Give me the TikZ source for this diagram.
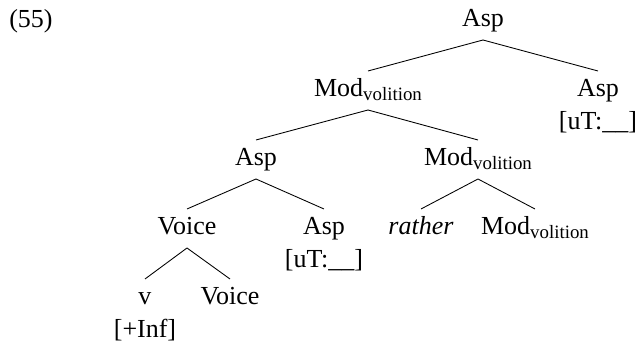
\documentclass[tikz,border=0pt]{standalone}
\usepackage{fontspec}
\setmainfont{Liberation Serif}
\usetikzlibrary{calc}
\newcommand{\modvol}{Mod\raisebox{-1.5pt}{\fontsize{8.7pt}{9pt}\selectfont volition}}
\newcommand{\featcat}[2]{\begin{tabular}[t]{@{}c@{}}#1\\ {#2}\end{tabular}}

\begin{document}
\begin{tikzpicture}[x=0.4615pt, y=-0.4615pt, font=\fontsize{12pt}{15pt}\selectfont,
        cat/.style = {anchor=base, inner sep=0pt}]
    \useasboundingbox (0,0) rectangle (636,342);
    \node[cat](ex) at (31,28) {(55)};
    \node[cat](asp1) at (483,27) {Asp};
    \node[cat](mod2) at (368,97) {\modvol};
    \node[cat](asp2) at (598,97) {\featcat{Asp}{[uT:\_\_]}};
    \node[cat](asp3) at (256,166) {Asp};
    \node[cat](mod3) at (478,166) {\modvol};
    \node[cat](voice4) at (187,235) {Voice};
    \node[cat](asp4) at (324,235) {\featcat{Asp}{[uT:\_\_]}};
    \node[cat](rather) at (421,235) {\textit{rather}};
    \node[cat](mod4) at (535,235) {\modvol};
    \node[cat](v5) at (145,305) {\featcat{v}{[+Inf]}};
    \node[cat](voice5) at (230,305) {Voice};
    \foreach \p/\c in {asp1/mod2, asp1/asp2, mod2/asp3, mod2/mod3, asp3/voice4,
            asp3/asp4, mod3/rather, mod3/mod4, voice4/v5, voice4/voice5}
        \draw ($(\p.base)+(0,13)$) -- ($(\c.base)+(0,-26)$);
\end{tikzpicture}
\end{document}
